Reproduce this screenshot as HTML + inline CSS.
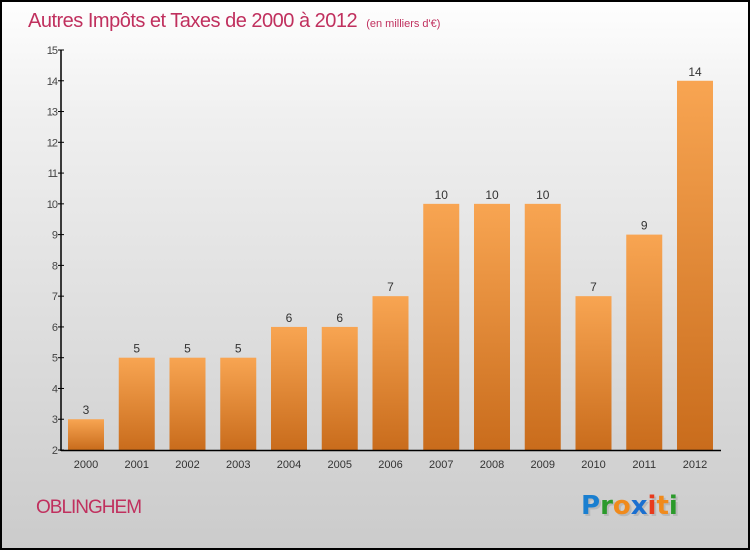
<!DOCTYPE html>
<html><head><meta charset="utf-8"><style>
body{margin:0}
#wrap{position:relative;width:750px;height:550px;box-sizing:border-box;border:2px solid #000;background:linear-gradient(#fefefe,#f0f0f0 20%,#cbcbcb);font-family:"Liberation Sans",sans-serif;overflow:hidden}
</style></head><body>
<div id="wrap">
<svg id="chart" width="750" height="550" style="position:absolute;left:-2px;top:-2px">
<defs><linearGradient id="bg" x1="0" y1="0" x2="0" y2="1"><stop offset="0" stop-color="#f8a552"/><stop offset="1" stop-color="#c96c1c"/></linearGradient></defs>
<text x="28" y="27" font-size="20" fill="#c0305e" letter-spacing="-0.5">Autres Impôts et Taxes de 2000 à 2012 <tspan font-size="11" dx="4" letter-spacing="0">(en milliers d'€)</tspan></text>
<text x="36" y="513" font-size="19" fill="#c0305e" letter-spacing="-1">OBLINGHEM</text>
<g font-size="26" font-weight="bold" font-family="'DejaVu Sans',sans-serif">
<text x="583" y="516" fill="#aaa" opacity="0.6">Proxiti</text>
<text x="581" y="514"><tspan fill="#1a7fd0">P</tspan><tspan fill="#2b9a2b">r</tspan><tspan fill="#f08a1c">o</tspan><tspan fill="#1a6fd0">x</tspan><tspan fill="#e83a1c">i</tspan><tspan fill="#f08a1c">t</tspan><tspan fill="#2b9a2b">i</tspan></text>
</g>
</svg>
</div>
<script>
const categories=["2000","2001","2002","2003","2004","2005","2006","2007","2008","2009","2010","2011","2012"];
const values=[3,5,5,5,6,6,7,10,10,10,7,9,14];
const yTicks=[2,3,4,5,6,7,8,9,10,11,12,13,14,15];
const svg=document.getElementById('chart');
const NS='http://www.w3.org/2000/svg';
const yMin=2,yMax=15,y0=450,y1=50;
const yS=v=>y0-(v-yMin)/(yMax-yMin)*(y0-y1);
const xS=i=>86+i*50.75;
const bw=36;
function mk(t,a,txt){const e=document.createElementNS(NS,t);for(const k in a)e.setAttribute(k,a[k]);if(txt!=null)e.textContent=txt;svg.appendChild(e);return e;}
values.forEach((v,i)=>{
 const r=mk('rect',{x:xS(i)-bw/2,y:yS(v),width:bw,height:y0-yS(v),fill:'url(#bg)'});
 
 
 const t=mk('text',{x:xS(i),y:yS(v)-5,'text-anchor':'middle','font-size':12,fill:'#333'},String(v));
 
 
 const c=mk('text',{x:xS(i),y:y0+18,'text-anchor':'middle','font-size':11,fill:'#333'},categories[i]);
 
 
});
yTicks.forEach(v=>{
 const l=mk('line',{x1:58,x2:64,y1:yS(v),y2:yS(v),stroke:'#000'});
 
 
 const t=mk('text',{x:57,y:yS(v)+4,'text-anchor':'end','font-size':11,fill:'#444','letter-spacing':'-1'},String(v));
 
 
});
const ya=mk('line',{x1:61,x2:61,y1:50,y2:451,stroke:'#000','stroke-width':1.5});


const xa=mk('line',{x1:61,x2:721,y1:450.5,y2:450.5,stroke:'#000','stroke-width':1.5});


</script>
</body></html>
